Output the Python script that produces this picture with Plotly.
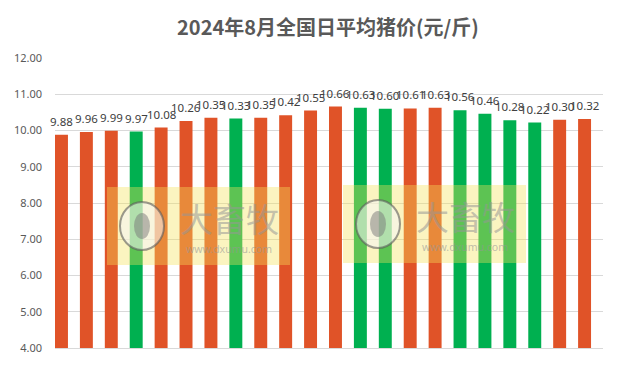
import plotly.graph_objects as go

days = [f"8月{i}日" for i in range(1, 23)]
prices = [9.88, 9.96, 9.99, 9.97, 10.08, 10.26, 10.35, 10.33, 10.35, 10.42, 10.55,
          10.66, 10.63, 10.60, 10.61, 10.63, 10.56, 10.46, 10.28, 10.22, 10.30, 10.32]
trend = ["up", "up", "up", "down", "up", "up", "up", "down", "up", "up", "up",
         "up", "down", "down", "up", "up", "down", "down", "down", "down", "up", "up"]
y_ticks = [4, 5, 6, 7, 8, 9, 10, 11, 12]

UP = "#E05328"
DOWN = "#00B050"
colors = [UP if t == "up" else DOWN for t in trend]

# page has an 8px body margin; lay the figure out in page pixels
OFF = 8
PW, PH = 628, 374
W, H = PW - OFF, PH - OFF
PL, PR, PT, PB = 55, 25, 58, 26          # plot area edges in page pixels
L, R, T, B = PL - OFF, PR, PT - OFF, PB

BAR_W = 0.52
xs = list(range(len(days)))

fig = go.Figure(go.Bar(
    x=xs, y=prices, marker_color=colors, marker_line_width=0,
    width=BAR_W, offset=0,
    customdata=days, hovertemplate="%{customdata}: %{y}<extra></extra>",
))

def px(x):
    return (x - PL) / (PW - PL - PR)

def py(y):
    return (PH - PB - y) / (PH - PT - PB)

annotations = []
for x, v in zip(xs, prices):
    annotations.append(dict(x=x + BAR_W / 2, y=v, xref="x", yref="y",
                            text=f"{v:.2f}", showarrow=False,
                            xanchor="center", yanchor="bottom", yshift=4,
                            font=dict(size=11.5, color="#404040",
                                      family="Noto Sans, Open Sans, sans-serif")))

shapes = []
for (x0, x1, y0, y1) in [(107, 290, 187, 265), (343, 526, 185, 263)]:
    shapes.append(dict(type="rect", xref="paper", yref="paper",
                       x0=px(x0), x1=px(x1), y0=py(y1), y1=py(y0),
                       fillcolor="rgba(245,225,90,0.38)", line_width=0, layer="above"))
    cx, cy = x0 + 35, (y0 + y1) / 2
    shapes.append(dict(type="circle", xref="paper", yref="paper",
                       x0=px(cx - 22), x1=px(cx + 22), y0=py(cy + 24), y1=py(cy - 24),
                       fillcolor="rgba(245,245,245,0.55)",
                       line=dict(color="rgba(90,90,90,0.6)", width=2), layer="above"))
    shapes.append(dict(type="circle", xref="paper", yref="paper",
                       x0=px(cx - 8), x1=px(cx + 8), y0=py(cy + 13), y1=py(cy - 13),
                       fillcolor="rgba(120,120,120,0.5)", line_width=0, layer="above"))
    annotations.append(dict(x=px(x0 + 122), y=py(cy - 8), xref="paper", yref="paper",
                            xanchor="center", yanchor="middle",
                            text="大畜牧", showarrow=False,
                            font=dict(size=33, color="rgba(150,150,150,0.55)",
                                      family="Noto Sans CJK SC")))
    annotations.append(dict(x=px(x0 + 122), y=py(cy + 23), xref="paper", yref="paper",
                            xanchor="center", yanchor="middle",
                            text="www.dxumu.com", showarrow=False,
                            font=dict(size=10.5, color="rgba(150,150,150,0.6)",
                                      family="Noto Sans, sans-serif")))

fig.update_layout(
    width=W, height=H,
    margin=dict(l=L, r=R, t=T, b=B, autoexpand=False),
    paper_bgcolor="white", plot_bgcolor="white",
    title=dict(text="<b>2024年8月全国日平均猪价(元/斤)</b>", x=(328 - OFF) / W,
               xanchor="center", y=1 - (28 - OFF) / H, yanchor="middle",
               font=dict(size=20, color="#595959", family="Noto Sans CJK SC")),
    showlegend=False,
    shapes=shapes,
    annotations=annotations,
    xaxis=dict(range=[0, len(days)], showticklabels=False, ticks="", showline=True,
               linecolor="#D9D9D9", linewidth=1, showgrid=False, zeroline=False,
               automargin=False),
    yaxis=dict(range=[4, 12], tickvals=y_ticks, tickformat=".2f",
               showgrid=True, gridcolor="#D9D9D9", gridwidth=1, zeroline=False,
               tickfont=dict(size=11, color="#595959", family="Noto Sans, sans-serif"),
               ticklabelstandoff=12, automargin=False),
)

fig.write_html("out.html")
